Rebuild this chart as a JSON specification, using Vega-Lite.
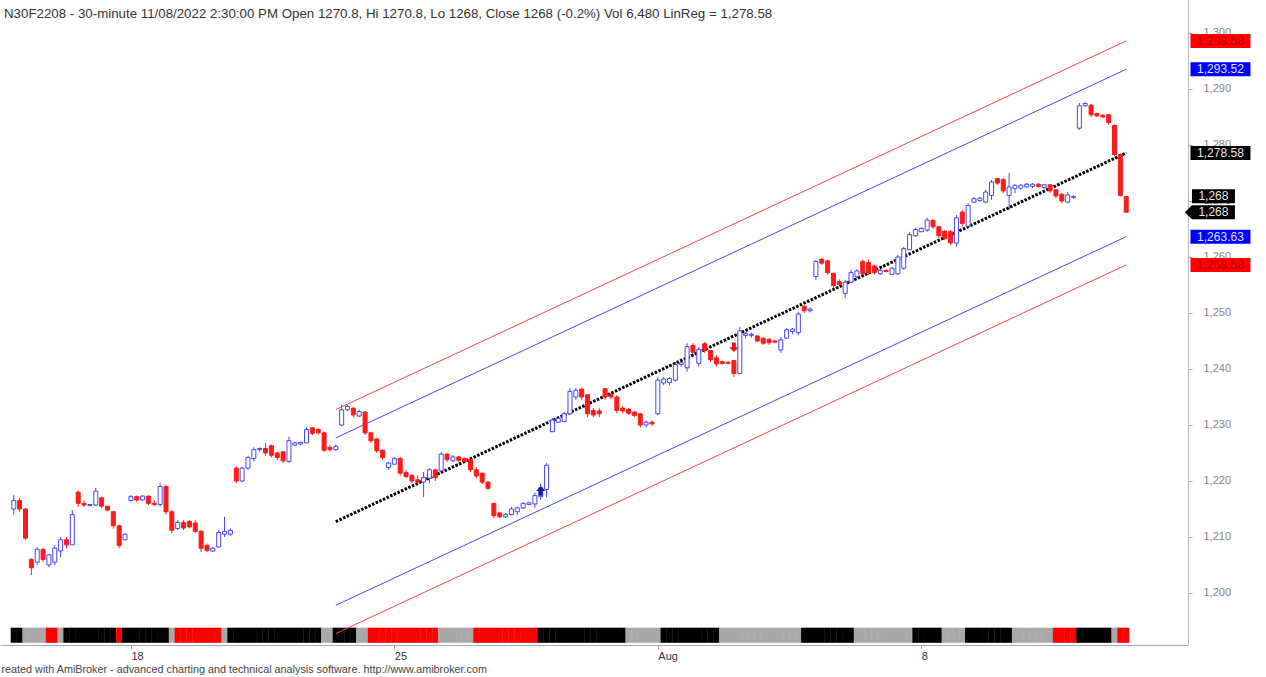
{
"$schema": "https://vega.github.io/schema/vega-lite/v6.json",
"width": 1188, "height": 645,
"autosize": {"type": "none"},
"padding": {"left": 0, "top": 0, "right": 78, "bottom": 32},
"background": "white",
"config": {"view": {"stroke": null}, "font": "Liberation Sans"},
"title": {"text": "N30F2208 - 30-minute 11/08/2022 2:30:00 PM Open 1270.8, Hi 1270.8, Lo 1268, Close 1268 (-0.2%) Vol 6,480 LinReg = 1,278.58", "anchor": "start", "frame": "group", "orient": "top", "offset": -20, "dx": 4, "fontSize": 13.3, "fontWeight": "normal", "color": "#333333", "font": "Liberation Sans"},
"datasets": {
"bars": [
{"i":-2,"o":1215,"h":1217.5,"l":1214,"c":1216.5,"b":"k"},
{"i":-1,"o":1216.5,"h":1217,"l":1214.5,"c":1215,"b":"k"},
{"i":0,"o":1215,"h":1215.2,"l":1209.5,"c":1209.8,"b":"g"},
{"i":1,"o":1206,"h":1206.2,"l":1203.2,"c":1204.5,"b":"g"},
{"i":2,"o":1205.5,"h":1208.2,"l":1205,"c":1207.8,"b":"g"},
{"i":3,"o":1207.8,"h":1208,"l":1205.5,"c":1206,"b":"g"},
{"i":4,"o":1205,"h":1207,"l":1204.6,"c":1206.8,"b":"r"},
{"i":5,"o":1205.5,"h":1208.5,"l":1205,"c":1208,"b":"r"},
{"i":6,"o":1207.5,"h":1210,"l":1206.4,"c":1209.5,"b":"g"},
{"i":7,"o":1209.5,"h":1210,"l":1208,"c":1208.6,"b":"k"},
{"i":8,"o":1208.6,"h":1214.8,"l":1208.6,"c":1214,"b":"k"},
{"i":9,"o":1218,"h":1218.3,"l":1215.4,"c":1216,"b":"k"},
{"i":10,"o":1216,"h":1216.5,"l":1215.4,"c":1215.7,"b":"k"},
{"i":11,"o":1215.6,"h":1215.9,"l":1215.5,"c":1215.8,"b":"k"},
{"i":12,"o":1215.7,"h":1218.75,"l":1215.5,"c":1218.2,"b":"k"},
{"i":13,"o":1217,"h":1217.2,"l":1215.2,"c":1215.5,"b":"k"},
{"i":14,"o":1215.5,"h":1215.6,"l":1214.6,"c":1214.8,"b":"k"},
{"i":15,"o":1214.5,"h":1214.6,"l":1211.5,"c":1212,"b":"k"},
{"i":16,"o":1212,"h":1212.2,"l":1208,"c":1208.5,"b":"r"},
{"i":17,"o":1209.5,"h":1210.7,"l":1209.5,"c":1210.5,"b":"k"},
{"i":18,"o":1216.5,"h":1217.5,"l":1216.3,"c":1217.2,"b":"k"},
{"i":19,"o":1217.2,"h":1217.4,"l":1216.3,"c":1216.6,"b":"k"},
{"i":20,"o":1216.6,"h":1217.5,"l":1216.4,"c":1217.3,"b":"k"},
{"i":21,"o":1217.3,"h":1217.4,"l":1215.7,"c":1216,"b":"k"},
{"i":22,"o":1216,"h":1216.6,"l":1215.5,"c":1215.8,"b":"k"},
{"i":23,"o":1215.8,"h":1219.6,"l":1215.4,"c":1219,"b":"k"},
{"i":24,"o":1219,"h":1219.3,"l":1214,"c":1214.5,"b":"k"},
{"i":25,"o":1214.5,"h":1214.8,"l":1210.7,"c":1211.2,"b":"g"},
{"i":26,"o":1211.5,"h":1213,"l":1211.25,"c":1212.6,"b":"r"},
{"i":27,"o":1212.6,"h":1213,"l":1211.25,"c":1211.6,"b":"r"},
{"i":28,"o":1212.8,"h":1213,"l":1211.5,"c":1211.8,"b":"r"},
{"i":29,"o":1212.5,"h":1213,"l":1210.7,"c":1211,"b":"r"},
{"i":30,"o":1211,"h":1211.25,"l":1207.3,"c":1208,"b":"r"},
{"i":31,"o":1208.5,"h":1208.8,"l":1207.3,"c":1207.6,"b":"r"},
{"i":32,"o":1207.5,"h":1208.2,"l":1207.3,"c":1208,"b":"r"},
{"i":33,"o":1208.2,"h":1211.25,"l":1208.2,"c":1210.8,"b":"r"},
{"i":34,"o":1210.5,"h":1213.6,"l":1210,"c":1211,"b":"g"},
{"i":35,"o":1210.5,"h":1211.5,"l":1210.2,"c":1211.2,"b":"k"},
{"i":36,"o":1222.3,"h":1222.6,"l":1219.6,"c":1220,"b":"k"},
{"i":37,"o":1220,"h":1222.5,"l":1219.8,"c":1222.3,"b":"k"},
{"i":38,"o":1222.3,"h":1224.5,"l":1222,"c":1224.2,"b":"k"},
{"i":39,"o":1224,"h":1226,"l":1223.5,"c":1225.6,"b":"k"},
{"i":40,"o":1225.6,"h":1226,"l":1225.2,"c":1225.8,"b":"k"},
{"i":41,"o":1225.8,"h":1226.8,"l":1224.5,"c":1225,"b":"k"},
{"i":42,"o":1226.3,"h":1226.5,"l":1224.2,"c":1224.6,"b":"k"},
{"i":43,"o":1225,"h":1225.2,"l":1223.75,"c":1224.2,"b":"k"},
{"i":44,"o":1225.2,"h":1225.3,"l":1223.2,"c":1223.6,"b":"k"},
{"i":45,"o":1223.5,"h":1227.9,"l":1223.2,"c":1227.2,"b":"k"},
{"i":46,"o":1226.4,"h":1227,"l":1226.2,"c":1226.8,"b":"k"},
{"i":47,"o":1226.6,"h":1227,"l":1226.4,"c":1226.9,"b":"k"},
{"i":48,"o":1226.8,"h":1229.6,"l":1226.8,"c":1229.2,"b":"k"},
{"i":49,"o":1229.5,"h":1229.6,"l":1228.2,"c":1228.5,"b":"k"},
{"i":50,"o":1229.2,"h":1229.4,"l":1228.3,"c":1228.6,"b":"k"},
{"i":51,"o":1228.6,"h":1228.8,"l":1225.2,"c":1225.5,"b":"g"},
{"i":52,"o":1226,"h":1226.4,"l":1225.3,"c":1225.6,"b":"g"},
{"i":53,"o":1225.6,"h":1226.5,"l":1225.4,"c":1226.2,"b":"k"},
{"i":54,"o":1230,"h":1233.6,"l":1229.8,"c":1232.7,"b":"k"},
{"i":55,"o":1232.7,"h":1233.6,"l":1232.5,"c":1233.3,"b":"k"},
{"i":56,"o":1233,"h":1233.2,"l":1231.4,"c":1231.8,"b":"k"},
{"i":57,"o":1231.6,"h":1232.7,"l":1231.4,"c":1232.4,"b":"g"},
{"i":58,"o":1232.3,"h":1232.5,"l":1228.2,"c":1228.6,"b":"g"},
{"i":59,"o":1228.6,"h":1228.8,"l":1226.8,"c":1227.2,"b":"r"},
{"i":60,"o":1227.5,"h":1227.7,"l":1225,"c":1225.4,"b":"r"},
{"i":61,"o":1225.5,"h":1225.6,"l":1223.8,"c":1224.2,"b":"r"},
{"i":62,"o":1222.4,"h":1223.4,"l":1222,"c":1223.2,"b":"r"},
{"i":63,"o":1223,"h":1224.3,"l":1222.9,"c":1224,"b":"r"},
{"i":64,"o":1224,"h":1224.3,"l":1221,"c":1221.4,"b":"r"},
{"i":65,"o":1221.5,"h":1222,"l":1220.5,"c":1220.8,"b":"r"},
{"i":66,"o":1221,"h":1221.2,"l":1219.6,"c":1220,"b":"r"},
{"i":67,"o":1220.2,"h":1221,"l":1219.6,"c":1219.8,"b":"r"},
{"i":68,"o":1219.8,"h":1221.6,"l":1217.1,"c":1220.6,"b":"r"},
{"i":69,"o":1220.5,"h":1222.3,"l":1219.6,"c":1222,"b":"r"},
{"i":70,"o":1222,"h":1222,"l":1220,"c":1220.6,"b":"r"},
{"i":71,"o":1221.8,"h":1225.2,"l":1221.6,"c":1224.8,"b":"g"},
{"i":72,"o":1224.8,"h":1225,"l":1223.4,"c":1223.8,"b":"g"},
{"i":73,"o":1223.6,"h":1224.6,"l":1223.4,"c":1224.3,"b":"g"},
{"i":74,"o":1224.3,"h":1224.5,"l":1223.4,"c":1223.7,"b":"g"},
{"i":75,"o":1224,"h":1224.2,"l":1223.3,"c":1223.5,"b":"g"},
{"i":76,"o":1223.8,"h":1224.1,"l":1221.6,"c":1222,"b":"g"},
{"i":77,"o":1222,"h":1222.5,"l":1220.5,"c":1220.9,"b":"r"},
{"i":78,"o":1221.4,"h":1221.4,"l":1219.4,"c":1219.8,"b":"r"},
{"i":79,"o":1219.8,"h":1220,"l":1218.4,"c":1218.7,"b":"r"},
{"i":80,"o":1216,"h":1216,"l":1213.4,"c":1213.8,"b":"r"},
{"i":81,"o":1214.3,"h":1214.4,"l":1213.4,"c":1213.6,"b":"r"},
{"i":82,"o":1213.6,"h":1214.3,"l":1213.4,"c":1214,"b":"r"},
{"i":83,"o":1214,"h":1215.4,"l":1213.9,"c":1215,"b":"r"},
{"i":84,"o":1214.5,"h":1215.4,"l":1213.9,"c":1215.2,"b":"r"},
{"i":85,"o":1215.2,"h":1216.25,"l":1215,"c":1216,"b":"r"},
{"i":86,"o":1215.8,"h":1216.3,"l":1215.7,"c":1216.1,"b":"r"},
{"i":87,"o":1215.9,"h":1217.9,"l":1215.2,"c":1217.4,"b":"r"},
{"i":88,"o":1217.2,"h":1219.6,"l":1216.6,"c":1218.8,"b":"k"},
{"i":89,"o":1218.5,"h":1223.2,"l":1217.1,"c":1222.8,"b":"k"},
{"i":90,"o":1228.8,"h":1231.25,"l":1228.75,"c":1230.9,"b":"k"},
{"i":91,"o":1230.5,"h":1231.4,"l":1230.4,"c":1231.2,"b":"k"},
{"i":92,"o":1230.6,"h":1232.3,"l":1230.5,"c":1232,"b":"k"},
{"i":93,"o":1232,"h":1236.6,"l":1231.8,"c":1236,"b":"k"},
{"i":94,"o":1235,"h":1236.6,"l":1234.5,"c":1236.2,"b":"k"},
{"i":95,"o":1236.4,"h":1236.6,"l":1234.5,"c":1235,"b":"k"},
{"i":96,"o":1235.4,"h":1235.4,"l":1231.4,"c":1232,"b":"k"},
{"i":97,"o":1232.6,"h":1233,"l":1231.4,"c":1231.8,"b":"k"},
{"i":98,"o":1232.5,"h":1233,"l":1231.4,"c":1232,"b":"k"},
{"i":99,"o":1236.5,"h":1236.6,"l":1234.5,"c":1235,"b":"k"},
{"i":100,"o":1235.5,"h":1235.7,"l":1234.6,"c":1235,"b":"k"},
{"i":101,"o":1235,"h":1235.3,"l":1232.1,"c":1232.6,"b":"k"},
{"i":102,"o":1233,"h":1233.4,"l":1232.1,"c":1232.5,"b":"k"},
{"i":103,"o":1232.8,"h":1233,"l":1231.8,"c":1232.1,"b":"g"},
{"i":104,"o":1232.3,"h":1232.5,"l":1231.4,"c":1231.7,"b":"g"},
{"i":105,"o":1232,"h":1232.1,"l":1229.5,"c":1230,"b":"g"},
{"i":106,"o":1230,"h":1230.8,"l":1229.6,"c":1230.5,"b":"g"},
{"i":107,"o":1230.5,"h":1230.8,"l":1229.8,"c":1230.2,"b":"g"},
{"i":108,"o":1232,"h":1238.6,"l":1231.8,"c":1238,"b":"g"},
{"i":109,"o":1237.5,"h":1238.6,"l":1237.1,"c":1238.2,"b":"k"},
{"i":110,"o":1237.6,"h":1238.6,"l":1237.1,"c":1238.3,"b":"k"},
{"i":111,"o":1238,"h":1241.25,"l":1237.7,"c":1240.8,"b":"k"},
{"i":112,"o":1240.8,"h":1241.3,"l":1240.4,"c":1241.1,"b":"k"},
{"i":113,"o":1240.2,"h":1244.6,"l":1239.5,"c":1244,"b":"k"},
{"i":114,"o":1244.2,"h":1244.6,"l":1242.5,"c":1243,"b":"k"},
{"i":115,"o":1241,"h":1243.9,"l":1240.4,"c":1243.5,"b":"k"},
{"i":116,"o":1244.5,"h":1244.8,"l":1242.9,"c":1243.3,"b":"k"},
{"i":117,"o":1243.3,"h":1243.4,"l":1241.25,"c":1241.7,"b":"k"},
{"i":118,"o":1242,"h":1242.5,"l":1240.4,"c":1240.9,"b":"k"},
{"i":119,"o":1241.3,"h":1241.5,"l":1240.8,"c":1241,"b":"g"},
{"i":120,"o":1241.2,"h":1241.4,"l":1240.8,"c":1241,"b":"g"},
{"i":121,"o":1241.5,"h":1241.6,"l":1238.6,"c":1239.2,"b":"g"},
{"i":122,"o":1239.2,"h":1247.5,"l":1239,"c":1246.8,"b":"g"},
{"i":123,"o":1246,"h":1246.6,"l":1245.5,"c":1246.3,"b":"g"},
{"i":124,"o":1246,"h":1246.5,"l":1245.6,"c":1246.2,"b":"g"},
{"i":125,"o":1245.9,"h":1246,"l":1244.8,"c":1245,"b":"g"},
{"i":126,"o":1245.5,"h":1245.6,"l":1244.3,"c":1244.6,"b":"g"},
{"i":127,"o":1245.3,"h":1245.5,"l":1244.3,"c":1244.7,"b":"g"},
{"i":128,"o":1245,"h":1245.2,"l":1244.6,"c":1244.8,"b":"g"},
{"i":129,"o":1243.4,"h":1245.7,"l":1242.9,"c":1245.2,"b":"g"},
{"i":130,"o":1245.5,"h":1247.3,"l":1245.4,"c":1247,"b":"g"},
{"i":131,"o":1246.7,"h":1247.3,"l":1246.2,"c":1247.1,"b":"g"},
{"i":132,"o":1246.5,"h":1250.2,"l":1246,"c":1249.8,"b":"g"},
{"i":133,"o":1251.2,"h":1251.4,"l":1250,"c":1250.4,"b":"k"},
{"i":134,"o":1250.4,"h":1251,"l":1250.1,"c":1250.7,"b":"k"},
{"i":135,"o":1256.5,"h":1259.5,"l":1255.9,"c":1259.2,"b":"k"},
{"i":136,"o":1259.6,"h":1259.8,"l":1258.6,"c":1258.9,"b":"k"},
{"i":137,"o":1259.3,"h":1259.5,"l":1256.8,"c":1257.2,"b":"k"},
{"i":138,"o":1257.1,"h":1257.1,"l":1254.5,"c":1254.9,"b":"k"},
{"i":139,"o":1255.6,"h":1256,"l":1254.8,"c":1255.1,"b":"k"},
{"i":140,"o":1253.5,"h":1255.9,"l":1252.7,"c":1255.5,"b":"k"},
{"i":141,"o":1255.5,"h":1257.7,"l":1255.4,"c":1257.2,"b":"k"},
{"i":142,"o":1256.5,"h":1257.8,"l":1256.2,"c":1257.5,"b":"g"},
{"i":143,"o":1259.2,"h":1259.5,"l":1256.8,"c":1257,"b":"g"},
{"i":144,"o":1259,"h":1259.5,"l":1256.8,"c":1257.2,"b":"g"},
{"i":145,"o":1258.4,"h":1258.6,"l":1256.9,"c":1257.2,"b":"g"},
{"i":146,"o":1257,"h":1258,"l":1256.8,"c":1257.6,"b":"g"},
{"i":147,"o":1257.6,"h":1257.8,"l":1257.2,"c":1257.4,"b":"g"},
{"i":148,"o":1256.9,"h":1258.2,"l":1256.8,"c":1258,"b":"g"},
{"i":149,"o":1257,"h":1260.4,"l":1256.8,"c":1260,"b":"g"},
{"i":150,"o":1258,"h":1261.8,"l":1257.7,"c":1261.5,"b":"g"},
{"i":151,"o":1261.3,"h":1264.5,"l":1261.25,"c":1264,"b":"g"},
{"i":152,"o":1263.8,"h":1265.2,"l":1263.6,"c":1264.9,"b":"k"},
{"i":153,"o":1264.5,"h":1265.3,"l":1264.5,"c":1265.1,"b":"k"},
{"i":154,"o":1264.8,"h":1267,"l":1264.5,"c":1266.6,"b":"k"},
{"i":155,"o":1266.5,"h":1266.8,"l":1265,"c":1265.4,"b":"k"},
{"i":156,"o":1265.4,"h":1265.4,"l":1263.4,"c":1263.8,"b":"k"},
{"i":157,"o":1264.6,"h":1264.8,"l":1263,"c":1263.4,"b":"g"},
{"i":158,"o":1264.5,"h":1264.8,"l":1262.1,"c":1262.5,"b":"g"},
{"i":159,"o":1262.5,"h":1267.5,"l":1261.8,"c":1267,"b":"g"},
{"i":160,"o":1268,"h":1268.4,"l":1265.4,"c":1266,"b":"g"},
{"i":161,"o":1265.5,"h":1269.6,"l":1265.2,"c":1269.2,"b":"k"},
{"i":162,"o":1269.8,"h":1270.7,"l":1269.6,"c":1270.4,"b":"k"},
{"i":163,"o":1270.1,"h":1270.7,"l":1269.8,"c":1270.5,"b":"k"},
{"i":164,"o":1269.8,"h":1272,"l":1269.6,"c":1271.6,"b":"k"},
{"i":165,"o":1271,"h":1273.75,"l":1270.2,"c":1273.4,"b":"k"},
{"i":166,"o":1274,"h":1274.1,"l":1272.9,"c":1273.2,"b":"k"},
{"i":167,"o":1273.8,"h":1274.1,"l":1271.4,"c":1271.8,"b":"k"},
{"i":168,"o":1271,"h":1275,"l":1268.4,"c":1272.5,"b":"k"},
{"i":169,"o":1272.2,"h":1273,"l":1271.4,"c":1272.8,"b":"g"},
{"i":170,"o":1272.3,"h":1273,"l":1272,"c":1272.8,"b":"g"},
{"i":171,"o":1272.5,"h":1273.2,"l":1272.3,"c":1273,"b":"g"},
{"i":172,"o":1272.6,"h":1273.2,"l":1272.3,"c":1273,"b":"g"},
{"i":173,"o":1273,"h":1273.2,"l":1272.4,"c":1272.6,"b":"g"},
{"i":174,"o":1272.4,"h":1273,"l":1272.2,"c":1272.9,"b":"g"},
{"i":175,"o":1272.9,"h":1272.9,"l":1271.4,"c":1271.8,"b":"g"},
{"i":176,"o":1272,"h":1272,"l":1270.5,"c":1270.9,"b":"r"},
{"i":177,"o":1271.2,"h":1271.4,"l":1269.6,"c":1270,"b":"r"},
{"i":178,"o":1269.8,"h":1271.6,"l":1269.6,"c":1271.1,"b":"r"},
{"i":179,"o":1270.6,"h":1271,"l":1270.4,"c":1270.8,"b":"r"},
{"i":180,"o":1283,"h":1287.5,"l":1282.7,"c":1287,"b":"k"},
{"i":181,"o":1287,"h":1287.7,"l":1286.8,"c":1287.4,"b":"k"},
{"i":182,"o":1287.1,"h":1287.3,"l":1285,"c":1285.4,"b":"k"},
{"i":183,"o":1285.6,"h":1285.8,"l":1285,"c":1285.2,"b":"k"},
{"i":184,"o":1285.3,"h":1285.5,"l":1284.8,"c":1285,"b":"k"},
{"i":185,"o":1285.4,"h":1285.4,"l":1283.6,"c":1284,"b":"k"},
{"i":186,"o":1283.5,"h":1283.6,"l":1278,"c":1278.3,"b":"g"},
{"i":187,"o":1278.3,"h":1278.5,"l":1270.8,"c":1271,"b":"r"},
{"i":188,"o":1270.8,"h":1270.8,"l":1268,"c":1268,"b":"r"}
],
"channel": [
{"i":53,"v":1212.75,"line":"mid"},{"i":188,"v":1278.58,"line":"mid"},
{"i":53,"v":1227.69,"line":"b+"},{"i":188,"v":1293.52,"line":"b+"},
{"i":53,"v":1197.8,"line":"b-"},{"i":188,"v":1263.63,"line":"b-"},
{"i":53,"v":1232.75,"line":"r+"},{"i":188,"v":1298.58,"line":"r+"},
{"i":53,"v":1192.75,"line":"r-"},{"i":188,"v":1258.58,"line":"r-"}
],
"signals": [
{"i":88,"v":1218.2,"s":"buy"},
{"i":121,"v":1243.9,"s":"sell"}
],
"labels": [
{"v":1298.58,"label":"1,298.58","k":"red"},
{"v":1293.52,"label":"1,293.52","k":"blue"},
{"v":1278.58,"label":"1,278.58","k":"black"},
{"v":1263.63,"label":"1,263.63","k":"blue"},
{"v":1258.58,"label":"1,258.58","k":"red"}
],
"close": [
{"v":1268,"label":"1,268"}
]
},
"layer": [
{"data": {"name": "bars"},
 "mark": {"type": "rule", "strokeWidth": 1},
 "encoding": {
  "x": {"field": "i", "type": "quantitative", "scale": {"domain": [-3.5, 197.7], "nice": false, "zero": false},
        "axis": {"values": [18, 63, 108, 153], "labelExpr": "datum.value == 18 ? '18' : datum.value == 63 ? '25' : datum.value == 108 ? 'Aug' : '8'", "labelAlign": "left", "labelDx": 1, "labelPadding": 1, "labelBaseline": "top", "tickSize": 4, "labelFontSize": 11, "labelColor": "#333333", "labelFont": "Liberation Sans", "domainColor": "#a8a8a8", "tickColor": "#a0a0a0", "grid": false,
                 "title": "reated with AmiBroker - advanced charting and technical analysis software. http://www.amibroker.com", "titleFontSize": 10.8, "titleFontWeight": "normal", "titleColor": "#444444", "titleFont": "Liberation Sans", "titleAnchor": "start", "titleAlign": "left", "titleX": 1, "titleY": 27, "titleBaseline": "alphabetic"}},
  "y": {"field": "l", "type": "quantitative", "scale": {"domain": [1190.71, 1305.89], "nice": false, "zero": false},
        "axis": {"orient": "right", "values": [1200,1210,1220,1230,1240,1250,1260,1270,1280,1290,1300], "format": ",d", "labelColor": "#858585", "labelFontSize": 11, "labelFont": "Liberation Sans", "labelPadding": 11, "tickColor": "#a0a0a0", "tickSize": 4, "domainColor": "#b8b8b8", "grid": false, "title": null}},
  "y2": {"field": "h"},
  "color": {"condition": {"test": "datum.c >= datum.o", "value": "#4646ff"}, "value": "#ff1a1a"}
 }},
{"data": {"name": "bars"},
 "mark": {"type": "bar", "width": 6.2},
 "encoding": {
  "x": {"field": "i", "type": "quantitative", "scale": {"domain": [-3.5, 197.7], "nice": false, "zero": false}},
  "y": {"datum": 1193.8, "type": "quantitative", "scale": {"domain": [1190.71, 1305.89], "nice": false, "zero": false}},
  "y2": {"datum": 1191.1},
  "color": {"condition": [{"test": "datum.b == 'k'", "value": "#000000"}, {"test": "datum.b == 'r'", "value": "#ff0000"}], "value": "#a8a8a8"}
 }},
{"data": {"name": "channel"},
 "transform": [{"filter": "datum.line == 'r+' || datum.line == 'r-'"}],
 "mark": {"type": "line", "strokeWidth": 1, "color": "#ff4545"},
 "encoding": {
  "x": {"field": "i", "type": "quantitative", "scale": {"domain": [-3.5, 197.7], "nice": false, "zero": false}},
  "y": {"field": "v", "type": "quantitative", "scale": {"domain": [1190.71, 1305.89], "nice": false, "zero": false}},
  "detail": {"field": "line"}
 }},
{"data": {"name": "channel"},
 "transform": [{"filter": "datum.line == 'b+' || datum.line == 'b-'"}],
 "mark": {"type": "line", "strokeWidth": 1, "color": "#4545ff"},
 "encoding": {
  "x": {"field": "i", "type": "quantitative", "scale": {"domain": [-3.5, 197.7], "nice": false, "zero": false}},
  "y": {"field": "v", "type": "quantitative", "scale": {"domain": [1190.71, 1305.89], "nice": false, "zero": false}},
  "detail": {"field": "line"}
 }},
{"data": {"name": "channel"},
 "transform": [{"filter": "datum.line == 'mid'"}],
 "mark": {"type": "line", "strokeWidth": 3, "color": "#000000", "strokeDash": [2.5, 1.5]},
 "encoding": {
  "x": {"field": "i", "type": "quantitative", "scale": {"domain": [-3.5, 197.7], "nice": false, "zero": false}},
  "y": {"field": "v", "type": "quantitative", "scale": {"domain": [1190.71, 1305.89], "nice": false, "zero": false}}
 }},
{"data": {"name": "bars"},
 "mark": {"type": "bar", "width": 4, "strokeWidth": 1},
 "encoding": {
  "x": {"field": "i", "type": "quantitative", "scale": {"domain": [-3.5, 197.7], "nice": false, "zero": false}},
  "y": {"field": "o", "type": "quantitative", "scale": {"domain": [1190.71, 1305.89], "nice": false, "zero": false}},
  "y2": {"field": "c"},
  "fill": {"condition": {"test": "datum.c >= datum.o", "value": "#ffffff"}, "value": "#ff1a1a"},
  "stroke": {"condition": {"test": "datum.c >= datum.o", "value": "#4646ff"}, "value": "#ff1a1a"}
 }},
{"data": {"name": "signals"},
 "transform": [{"filter": "datum.s == 'buy'"}],
 "mark": {"type": "point", "filled": true, "opacity": 1, "size": 90, "color": "#1a1aa0", "shape": "M-0.4,1L-0.4,0L-1,0L0,-1L1,0L0.4,0L0.4,1Z"},
 "encoding": {
  "x": {"field": "i", "type": "quantitative", "scale": {"domain": [-3.5, 197.7], "nice": false, "zero": false}},
  "y": {"field": "v", "type": "quantitative", "scale": {"domain": [1190.71, 1305.89], "nice": false, "zero": false}}
 }},
{"data": {"name": "signals"},
 "transform": [{"filter": "datum.s == 'sell'"}],
 "mark": {"type": "point", "filled": true, "opacity": 1, "size": 90, "color": "#ee1111", "shape": "M-0.4,-1L-0.4,0L-1,0L0,1L1,0L0.4,0L0.4,-1Z"},
 "encoding": {
  "x": {"field": "i", "type": "quantitative", "scale": {"domain": [-3.5, 197.7], "nice": false, "zero": false}},
  "y": {"field": "v", "type": "quantitative", "scale": {"domain": [1190.71, 1305.89], "nice": false, "zero": false}}
 }},
{"data": {"name": "labels"},
 "mark": {"type": "point", "filled": true, "opacity": 1, "size": 3600, "strokeWidth": 0, "shape": "M-1,-0.2333H1V0.2333H-1Z"},
 "encoding": {
  "x": {"datum": 204.1, "type": "quantitative", "scale": {"domain": [-3.5, 197.7], "nice": false, "zero": false}},
  "y": {"field": "v", "type": "quantitative", "scale": {"domain": [1190.71, 1305.89], "nice": false, "zero": false}},
  "fill": {"condition": [{"test": "datum.k == 'red'", "value": "#ff0000"}, {"test": "datum.k == 'blue'", "value": "#0000ff"}], "value": "#000000"}
 }},
{"data": {"name": "labels"},
 "mark": {"type": "text", "fontSize": 12, "font": "Liberation Sans", "align": "center", "baseline": "middle"},
 "encoding": {
  "x": {"datum": 204.1, "type": "quantitative", "scale": {"domain": [-3.5, 197.7], "nice": false, "zero": false}},
  "y": {"field": "v", "type": "quantitative", "scale": {"domain": [1190.71, 1305.89], "nice": false, "zero": false}},
  "text": {"field": "label"},
  "color": {"condition": [{"test": "datum.k == 'red'", "value": "#b80000"}, {"test": "datum.k == 'blue'", "value": "#dfe3ff"}], "value": "#e8e8e8"}
 }},
{"data": {"name": "close"},
 "mark": {"type": "point", "filled": true, "opacity": 1, "size": 1849, "strokeWidth": 0, "color": "#000000", "shape": "M-1,-0.3256H1V0.3256H-1L-1.33,0Z"},
 "encoding": {
  "x": {"datum": 202.9, "type": "quantitative", "scale": {"domain": [-3.5, 197.7], "nice": false, "zero": false}},
  "y": {"field": "v", "type": "quantitative", "scale": {"domain": [1190.71, 1305.89], "nice": false, "zero": false}}
 }},
{"data": {"name": "close"},
 "mark": {"type": "point", "filled": true, "opacity": 1, "size": 1849, "strokeWidth": 0, "color": "#000000", "yOffset": -16, "shape": "M-1,-0.3256H1V0.3256H-1Z"},
 "encoding": {
  "x": {"datum": 202.9, "type": "quantitative", "scale": {"domain": [-3.5, 197.7], "nice": false, "zero": false}},
  "y": {"field": "v", "type": "quantitative", "scale": {"domain": [1190.71, 1305.89], "nice": false, "zero": false}}
 }},
{"data": {"name": "close"},
 "mark": {"type": "text", "fontSize": 12, "font": "Liberation Sans", "align": "center", "baseline": "middle", "color": "#e8e8e8"},
 "encoding": {
  "x": {"datum": 202.9, "type": "quantitative", "scale": {"domain": [-3.5, 197.7], "nice": false, "zero": false}},
  "y": {"field": "v", "type": "quantitative", "scale": {"domain": [1190.71, 1305.89], "nice": false, "zero": false}},
  "text": {"field": "label"}
 }},
{"data": {"name": "close"},
 "mark": {"type": "text", "fontSize": 12, "font": "Liberation Sans", "align": "center", "baseline": "middle", "color": "#e8e8e8", "yOffset": -16},
 "encoding": {
  "x": {"datum": 202.9, "type": "quantitative", "scale": {"domain": [-3.5, 197.7], "nice": false, "zero": false}},
  "y": {"field": "v", "type": "quantitative", "scale": {"domain": [1190.71, 1305.89], "nice": false, "zero": false}},
  "text": {"field": "label"}
 }}
]
}
